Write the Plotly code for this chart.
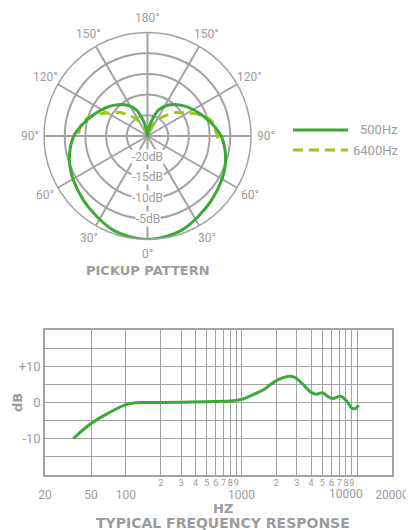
import math
import plotly.graph_objects as go

# The page body has an 8px margin, so the figure is sized to fit inside the 414x530 window.
PAGE_OFF = 8
W, H = 414 - PAGE_OFF, 530 - PAGE_OFF

# ---------------- data ----------------
# Pickup pattern (half pattern, mirrored left/right): angle from front (deg), level (dB)
angles_500 = [0, 10, 20, 32, 45, 60, 70, 80, 90, 101, 113, 127, 139, 148, 157, 163, 169, 175, 180]
levels_500 = [0, -0.3, -0.8, -2.0, -3.1, -4.2, -5.0, -6.0, -7.2, -9.2, -11.2, -13.2, -14.9,
              -16.3, -18.2, -20.5, -22.8, -24.5, -25]
angles_6400 = [88, 92, 103, 111, 121, 130, 137, 145, 152, 160, 170, 180]
levels_6400 = [-8.0, -8.3, -9.1, -11.0, -14.2, -16.2, -18.0, -19.8, -21.5, -23.3, -24.6, -25]

angle_ticks = [0, 30, 60, 90, 120, 150, 180, 210, 240, 270, 300, 330]
angle_labels = ["0°", "30°", "60°", "90°", "120°", "150°", "180°", "150°", "120°", "90°", "60°", "30°"]
ring_levels = [-20, -15, -10, -5]
ring_labels = ["-20dB", "-15dB", "-10dB", "-5dB"]
legend_names = ["500Hz", "6400Hz"]

# Frequency response
freq_hz = [35, 50, 70, 100, 120, 150, 200, 300, 500, 700, 850, 1000, 1250, 1600, 1750,
           2100, 2500, 2900, 3400, 4000, 4450, 5000, 5600, 6150, 7200, 8200, 9000, 9600, 10300]
response_db = [-10.0, -5.8, -3.0, -0.6, -0.1, 0.0, 0.0, 0.1, 0.2, 0.35, 0.5, 0.85, 2.1, 3.8, 4.8,
               6.4, 7.2, 6.9, 5.0, 2.8, 2.3, 2.7, 1.6, 1.1, 1.7, 0.2, -1.6, -1.7, -0.7]
freq_grid_ticks = [20, 50, 100, 200, 300, 400, 500, 600, 700, 800, 900, 1000,
                   2000, 3000, 4000, 5000, 6000, 7000, 8000, 9000, 10000, 20000]
freq_major_labels = {20: "20", 50: "50", 100: "100", 1000: "1000", 20000: "20000"}
freq_shifted_tick = 10000
freq_shifted_label = "10000"
freq_minor_ticks = [200, 300, 400, 500, 600, 700, 800, 900, 2000, 3000, 4000, 5000, 6000, 7000, 8000, 9000]
freq_minor_labels = ["2", "3", "4", "5", "6", "7", "8", "9", "2", "3", "4", "5", "6", "7", "8", "9"]
db_ticks = [-20, -15, -10, -5, 0, 5, 10, 15, 20]
db_labels = ["", "", "-10", "", "0", "", "+10", "", ""]

# ---------------- style ----------------
GREEN = "#3aaa35"
LIME = "#9dc81e"
GRID = "#a3a3a3"
TXT = "#9c9c9c"
FONT = "Roboto"
BOLD = "DejaVu Sans"


def px(x):  # page pixel x -> paper
    return (x - PAGE_OFF) / W


def py(y):  # page pixel y -> paper
    return 1 - (y - PAGE_OFF) / H


fig = go.Figure()

# full patterns (mirror the half patterns)
th500 = angles_500 + [360 - a for a in reversed(angles_500[:-1])]
r500 = levels_500 + list(reversed(levels_500[:-1]))
th6400 = [360 - a for a in angles_6400] + list(reversed(angles_6400[:-1]))
r6400 = levels_6400 + list(reversed(levels_6400[:-1]))

fig.add_trace(go.Scatterpolar(theta=th6400, r=r6400, mode="lines", name=legend_names[1],
                              line=dict(color=LIME, width=3, dash="10px,6px", shape="spline"),
                              showlegend=False, hoverinfo="skip"))
fig.add_trace(go.Scatterpolar(theta=th500, r=r500, mode="lines", name=legend_names[0],
                              line=dict(color=GREEN, width=3, shape="spline"),
                              showlegend=False, hoverinfo="skip"))

fig.add_trace(go.Scatter(x=freq_hz, y=response_db, mode="lines", xaxis="x", yaxis="y",
                         line=dict(color=GREEN, width=3, shape="spline"),
                         showlegend=False, hoverinfo="skip"))
fig.add_trace(go.Scatter(x=freq_minor_ticks, y=[None] * len(freq_minor_ticks), mode="lines",
                         xaxis="x2", yaxis="y", showlegend=False, hoverinfo="skip"))

# polar geometry (page pixels)
PCX, PCY, PR = 147.5, 136.0, 103.5
LABEL_R = 118.0

fig.update_layout(
    width=W, height=H,
    margin=dict(l=0, r=0, t=0, b=0, autoexpand=False),
    paper_bgcolor="white", plot_bgcolor="white",
    font=dict(family=FONT, color=TXT),
    polar=dict(
        domain=dict(x=[px(PCX - PR), px(PCX + PR)], y=[py(PCY + PR), py(PCY - PR)]),
        bgcolor="white",
        angularaxis=dict(rotation=270, direction="clockwise", tickmode="array",
                         tickvals=angle_ticks, showticklabels=False,
                         showgrid=True, gridcolor=GRID, gridwidth=1.5,
                         showline=True, linecolor=GRID, linewidth=1.5, ticks=""),
        radialaxis=dict(range=[-25, 0], tickmode="array", tickvals=ring_levels,
                        showticklabels=False, ticks="", showline=False,
                        showgrid=True, gridcolor=GRID, gridwidth=1.5),
    ),
    xaxis=dict(type="log", range=[math.log10(20), math.log10(20000)],
               domain=[px(45), px(392)], anchor="y", automargin=False,
               tickmode="array", tickvals=freq_grid_ticks, tickangle=0,
               ticktext=[freq_major_labels.get(v, "") for v in freq_grid_ticks],
               showgrid=True, gridcolor=GRID, gridwidth=1,
               showline=True, mirror=True, linecolor=GRID, linewidth=1.5,
               ticks="", zeroline=False, ticklabelstandoff=8,
               tickfont=dict(family=FONT, size=12, color=TXT)),
    xaxis2=dict(type="log", range=[math.log10(20), math.log10(20000)],
                overlaying="x", anchor="y", side="bottom", automargin=False,
                tickmode="array", tickvals=freq_minor_ticks, ticktext=freq_minor_labels,
                tickangle=0,
                showgrid=False, showline=False, ticks="", zeroline=False,
                ticklabelstandoff=1,
                tickfont=dict(family=FONT, size=9, color=TXT)),
    yaxis=dict(range=[-20, 20], domain=[py(475), py(330)], anchor="x", automargin=False,
               tickmode="array", tickvals=db_ticks, ticktext=db_labels,
               showgrid=True, gridcolor=GRID, gridwidth=1,
               showline=True, mirror=True, linecolor=GRID, linewidth=1.5,
               ticks="", zeroline=False,
               tickfont=dict(family=FONT, size=13, color=TXT)),
)

# the 10000 label sits a little left of its grid line (as in the original)
fig.add_annotation(x=math.log10(freq_shifted_tick), xref="x", xshift=-11,
                   y=py(494), yref="paper", text=freq_shifted_label, showarrow=False,
                   xanchor="center", yanchor="middle",
                   font=dict(family=FONT, size=12, color=TXT))

# angular labels just outside the rim (0° at bottom, clockwise)
for ang, txt in zip(angle_ticks, angle_labels):
    a = math.radians(ang)
    lx = PCX - LABEL_R * math.sin(a)
    ly = PCY + LABEL_R * math.cos(a)
    fig.add_annotation(x=px(lx), y=py(ly), xref="paper", yref="paper", text=txt,
                       showarrow=False, xanchor="center", yanchor="middle",
                       font=dict(family=FONT, size=12, color=TXT))

# radial ring labels, centred on the 0° spoke
for lvl, txt in zip(ring_levels, ring_labels):
    ypix = PCY + (lvl + 25) / 25 * PR
    fig.add_annotation(x=px(PCX), y=py(ypix), xref="paper", yref="paper",
                       text=txt, showarrow=False, bgcolor="white", borderpad=0,
                       xanchor="center", yanchor="middle",
                       font=dict(family=FONT, size=12, color=TXT))

# legend (manual)
fig.add_shape(type="line", xref="paper", yref="paper", x0=px(293), x1=px(348),
              y0=py(130), y1=py(130), line=dict(color=GREEN, width=3))
fig.add_shape(type="line", xref="paper", yref="paper", x0=px(293), x1=px(348),
              y0=py(150), y1=py(150), line=dict(color=LIME, width=3, dash="10px,6px"))
for yy, name in zip([130, 150], legend_names):
    fig.add_annotation(x=px(400), y=py(yy), xref="paper", yref="paper", text=name,
                       showarrow=False, xanchor="right", yanchor="middle",
                       font=dict(family=FONT, size=13, color=TXT))

# titles
fig.add_annotation(x=px(148), y=py(270), xref="paper", yref="paper", text="<b>PICKUP PATTERN</b>",
                   showarrow=False, xanchor="center", yanchor="middle",
                   font=dict(family=BOLD, size=13, color=TXT))
fig.add_annotation(x=px(223), y=py(508), xref="paper", yref="paper", text="<b>HZ</b>",
                   showarrow=False, xanchor="center", yanchor="middle",
                   font=dict(family=BOLD, size=13, color=TXT))
fig.add_annotation(x=px(223), y=py(523), xref="paper", yref="paper",
                   text="<b>TYPICAL FREQUENCY RESPONSE</b>",
                   showarrow=False, xanchor="center", yanchor="middle",
                   font=dict(family=BOLD, size=14, color=TXT))
fig.add_annotation(x=px(17), y=py(403), xref="paper", yref="paper", text="<b>dB</b>",
                   showarrow=False, textangle=-90, xanchor="center", yanchor="middle",
                   font=dict(family=BOLD, size=13, color=TXT))

fig.write_html("out.html")
